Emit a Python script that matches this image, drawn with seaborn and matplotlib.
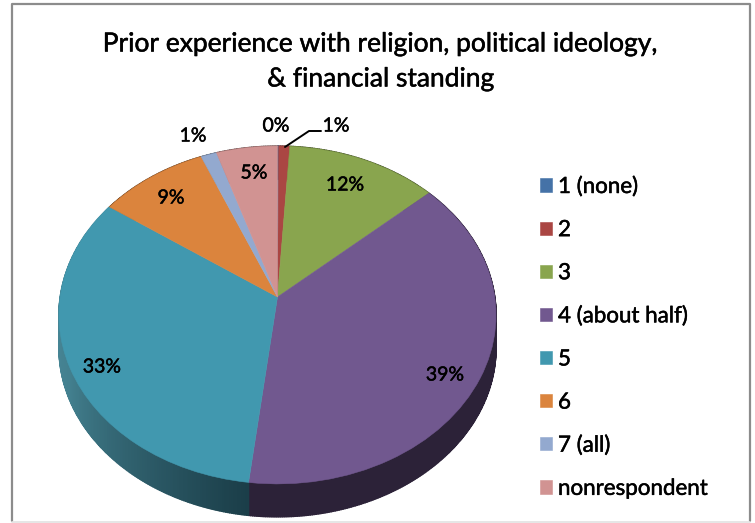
import matplotlib
matplotlib.use("Agg")
import matplotlib.pyplot as plt
import matplotlib.patheffects as pe
import numpy as np
import seaborn as sns
from matplotlib.transforms import Transform

categories = ["1 (none)", "2", "3", "4 (about half)", "5", "6", "7 (all)", "nonrespondent"]
shares = [0.1, 0.9, 12.4, 38.5, 32.8, 9.0, 1.3, 5.0]
slice_colors = ["#4572a7", "#aa4643", "#89a54e", "#71588f",
                "#4198af", "#db843d", "#93a9cf", "#d19392"]
wall_colors = ["#22384f", "#552220", "#445227", "#2c2238",
               "#1b3e49", "#6d411e", "#495467", "#684948"]
label_texts = ["0%", "1%", "12%", "39%", "33%", "9%", "1%", "5%"]
label_xs = [276, 336, 345, 445, 102, 171, 193, 254]
label_ys = [126, 126, 185, 375, 367, 198, 136, 173]
title_lines = "Prior experience with religion, political ideology,\n& financial standing"

sns.set_theme(style="white")
plt.rcParams["font.family"] = ["Lato", "DejaVu Sans"]

CENTER_X, CENTER_Y = 277.5, 297.0
RADIUS_X, RADIUS_Y, TILT = 217.3, 167.0, 0.1064
DEPTH = 33.0
HEAVIER = [pe.withStroke(linewidth=0.35, foreground="black")]


def project(u, v):
    """Tilted-disc projection of unit-circle coordinates to pixels."""
    w = 1.0 + TILT * v
    return CENTER_X + RADIUS_X * u / w, CENTER_Y - RADIUS_Y * v / w


class TiltedDisc(Transform):
    input_dims = output_dims = 2

    def transform_non_affine(self, values):
        values = np.asarray(values, dtype=float)
        return np.column_stack(project(values[:, 0], values[:, 1]))


fig, ax = plt.subplots(figsize=(7.55, 5.23), dpi=100)
ax.set_position([0, 0, 1, 1])

wedges, _ = ax.pie(shares, colors=sns.color_palette(slice_colors), startangle=90,
                   counterclock=False, radius=1.0,
                   wedgeprops={"linewidth": 0.4, "zorder": 3})
ax.set_aspect("auto")
ax.set_xlim(0, 755)
ax.set_ylim(523, 0)
ax.axis("off")

disc = TiltedDisc() + ax.transData
for wedge, color in zip(wedges, slice_colors):
    wedge.set_transform(disc)
    wedge.set_edgecolor(color)

# Side wall of the disc, built from narrow overlapping strips under each slice
for wedge, dark, name in zip(wedges, wall_colors, categories):
    steps = max(int(wedge.theta2 - wedge.theta1) * 2, 1)
    angles = np.radians(np.linspace(wedge.theta1, wedge.theta2, steps + 1))
    xs, ys = project(np.cos(angles), np.sin(angles))
    if name == "5":
        shades = sns.blend_palette(["#4f93a5", "#43808f", "#1b3e49"], steps)
    else:
        shades = [dark] * steps
    for i in range(steps):
        ax.fill([xs[i], xs[i + 1], xs[i + 1], xs[i]],
                [ys[i], ys[i + 1], ys[i + 1] + DEPTH, ys[i] + DEPTH],
                color=shades[i], lw=1.0, zorder=2)

for text, x, y in zip(label_texts, label_xs, label_ys):
    ax.text(x, y, text, ha="center", va="center", fontsize=14, color="black", zorder=5,
            path_effects=HEAVIER)
ax.plot([285, 309, 321], [147, 131, 131], color="black", lw=1.4, zorder=4)

fig.text(381 / 755, 1 - 61.5 / 523, title_lines, ha="center", va="center",
         fontsize=19.0, linespacing=1.5, color="black", path_effects=HEAVIER)

legend_size = 16.1
px = legend_size * 100 / 72
legend = ax.legend(wedges, categories, loc="upper left", bbox_to_anchor=(540 / 755, 1 - 177 / 523),
                   frameon=False, fontsize=legend_size, handlelength=12 / px, handleheight=12 / px,
                   handletextpad=6 / px, labelspacing=(42.8 - 0.88 * px) / px, borderpad=0,
                   borderaxespad=0, labelcolor="black")
for entry in legend.get_texts():
    entry.set_path_effects(HEAVIER)

# Chart border: mid grey on three sides, faint along the bottom
ax.plot([12, 12, 750, 750], [521, 4, 4, 521], color="#8c8c8c", lw=1.6, zorder=6)
ax.plot([12, 750], [521.5, 521.5], color="#e2e2e2", lw=1.2, zorder=6)

fig.savefig("out.png", dpi=100)
